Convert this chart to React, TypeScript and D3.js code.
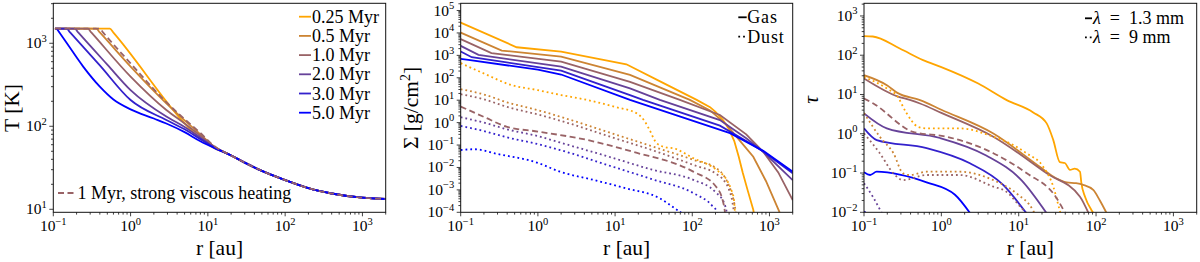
import React, { useEffect, useRef } from "react";
import * as d3 from "d3";

type Pt = [number, number];

// ---- labels ----
const ageLabels = ["0.25 Myr", "0.5 Myr", "1.0 Myr", "2.0 Myr", "3.0 Myr", "5.0 Myr"];
const viscousLabel = "1 Myr, strong viscous heating";
const phaseLabels = ["Gas", "Dust"];
const waveLabels = ["1.3 mm", "9 mm"];

const xTickExps = [-1, 0, 1, 2, 3];
const tempTickExps = [1, 2, 3];
const sigmaTickExps = [-4, -3, -2, -1, 0, 1, 2, 3, 4, 5];
const tauTickExps = [-2, -1, 0, 1, 2, 3];

// ---- temperature [K] vs r [au] ----
const tempTail: Pt[] = [[20, 44.5], [30, 36.5], [50, 29], [100, 22.5], [200, 18], [400, 15.5], [1000, 13.8], [2000, 13.3]];
const temp025: Pt[] = [[0.105, 1500], [0.54, 1500], [0.6, 1340], [11.5, 56], ...tempTail];
const temp05: Pt[] = [[0.105, 1500], [0.36, 1500], [0.4, 1350], [1, 523], [2.9, 189], [5, 118], [8, 80], [12, 57], ...tempTail];
const temp10: Pt[] = [[0.105, 1500], [0.28, 1500], [0.31, 1350], [1, 396], [2.9, 157], [5, 108], [8, 77], [12, 57], ...tempTail];
const temp20: Pt[] = [[0.105, 1500], [0.19, 1500], [0.21, 1350], [0.5, 553], [1, 273], [2.9, 131], [5, 98], [8, 73], [12, 56], ...tempTail];
const temp30: Pt[] = [[0.105, 1500], [0.149, 1500], [0.165, 1350], [0.4, 542], [1, 207], [2.9, 119], [5, 92], [8, 70], [12, 56], ...tempTail];
const temp50: Pt[] = [[0.111, 1500], [0.15, 1000], [0.245, 520], [0.4, 300], [0.6, 210], [1, 160], [2, 124], [2.9, 108], [5, 85], [8, 66], [12, 55], ...tempTail];
const tempViscous: Pt[] = [[0.105, 1500], [0.4, 1500], [0.44, 1350], [1, 573], [2.9, 195], [5, 122], [8, 83], [12, 58], ...tempTail];

// ---- surface density [g/cm^2] ----
const gas025: Pt[] = [[0.1, 2.9e4], [0.53, 2300], [2, 1480], [14, 400], [40, 64], [114, 10.3], [170, 4.9], [200, 3], [250, 1.3], [300, 0.5], [350, 0.15], [400, 0.03], [450, 6e-3], [520, 1e-3], [617, 1.3e-4], [700, 1e-5]];
const gas05: Pt[] = [[0.1, 1.04e4], [0.34, 1640], [2, 880], [15.6, 134], [93, 10.3], [170, 3.5], [279, 0.79], [400, 0.18], [617, 0.03], [900, 2.5e-3], [1340, 1.07e-4], [1500, 3e-5]];
const gas10: Pt[] = [[0.1, 5300], [0.25, 1250], [2, 525], [15.6, 66], [69, 10.3], [228, 2.2], [500, 0.3], [830, 0.05], [1300, 6e-3], [2000, 3.5e-4]];
const gas20: Pt[] = [[0.1, 2650], [0.17, 1050], [2, 316], [15.6, 34], [38, 10.3], [228, 1.3], [500, 0.2], [830, 0.05], [2000, 2.7e-3]];
const gas30: Pt[] = [[0.1, 1480], [0.139, 830], [2, 209], [15.6, 17], [23, 10.3], [228, 0.73], [500, 0.15], [830, 0.052], [2000, 5.5e-3]];
const gas50: Pt[] = [[0.1, 690], [0.126, 630], [1, 230], [2, 140], [15.6, 10.3], [308, 0.34], [830, 0.055], [2000, 6.5e-3]];

const dust025: Pt[] = [[0.1, 450], [0.2, 155], [0.45, 48], [1, 28], [2, 17], [4.5, 10], [10, 5], [19, 2.6], [24, 1.2], [28, 0.47], [34.6, 0.12], [45, 0.08], [57, 0.072], [103, 0.026], [207, 7.7e-3], [279, 2.8e-3], [320, 1e-3], [345, 4e-4], [357, 1e-4], [362, 5e-5]];
const dust05: Pt[] = [[0.1, 31], [0.2, 18], [0.4, 8], [1, 3.6], [1.93, 1.85], [10, 0.3], [30, 0.088], [103, 0.022], [207, 9e-3], [260, 4e-3], [300, 1.5e-3], [340, 4e-4], [365, 1e-4], [372, 5e-5]];
const dust10: Pt[] = [[0.1, 18.5], [0.2, 11], [0.4, 5], [1, 2.3], [1.93, 1.23], [10, 0.2], [30, 0.06], [103, 0.013], [207, 5e-3], [260, 2.5e-3], [300, 1e-3], [330, 3e-4], [345, 1e-4], [350, 5e-5]];
const dust20: Pt[] = [[0.1, 1.74], [0.2, 1.0], [0.4, 0.5], [1, 0.25], [1.93, 0.13], [10, 0.025], [30, 8e-3], [103, 2.8e-3], [200, 8e-4], [260, 2.5e-4], [280, 1e-4], [290, 5e-5]];
const dust30: Pt[] = [[0.1, 0.71], [0.2, 0.42], [0.4, 0.22], [1, 0.11], [1.93, 0.06], [10, 0.01], [30, 3e-3], [103, 7.2e-4], [180, 2e-4], [210, 1e-4], [220, 5e-5]];
const dust50: Pt[] = [[0.1, 0.06], [0.15, 0.065], [0.3, 0.04], [1, 0.016], [1.93, 6.5e-3], [5.2, 2.8e-3], [14, 1.17e-3], [38, 4.2e-4], [63, 1.3e-4], [73, 9e-5], [80, 5e-5]];
const dustViscous: Pt[] = [[0.1, 5.2], [0.2, 1.8], [0.39, 0.66], [1, 0.4], [4.3, 0.17], [17, 0.05], [103, 6.5e-3], [200, 1.5e-3], [250, 3e-4], [265, 1e-4], [270, 5e-5]];

// ---- optical depth ----
const tau13_025: Pt[] = [[0.1, 306], [0.13, 300], [0.29, 148], [0.58, 75], [1, 50], [3, 19], [7, 7.2], [15.4, 3.5], [23, 1.84], [28, 0.69], [34, 0.19], [39.5, 0.18], [46, 0.12], [53, 0.13], [62, 0.108], [64.6, 0.055], [72, 0.025], [87, 0.0115], [100, 0.008]];
const tau13_05: Pt[] = [[0.1, 31], [0.2, 17], [0.27, 11], [0.53, 7.2], [1, 4.1], [4.7, 1.02], [18.7, 0.145], [30, 0.075], [41.7, 0.058], [55, 0.055], [68, 0.05], [92, 0.037], [112, 0.02], [137, 0.0095]];
const tau13_10: Pt[] = [[0.1, 25.7], [0.27, 9], [0.4, 7.2], [0.53, 5.9], [1, 3.4], [4.7, 0.84], [23, 0.098], [62, 0.025], [80, 0.0095]];
const tau13_20: Pt[] = [[0.1, 3.3], [0.197, 1.37], [0.96, 0.78], [3.8, 0.28], [10.9, 0.065], [23, 0.0094]];
const tau13_30: Pt[] = [[0.1, 1.37], [0.146, 0.69], [0.645, 0.43], [2.34, 0.177], [6.3, 0.05], [12.6, 0.0094]];
const tau13_50: Pt[] = [[0.1, 0.105], [0.12, 0.089], [0.146, 0.108], [0.3, 0.09], [0.645, 0.058], [1.5, 0.028], [2.4, 0.009]];
const tau13_viscous: Pt[] = [[0.1, 7.9], [0.132, 5.9], [0.43, 1.12], [1.17, 0.84], [4.7, 0.32], [12.6, 0.1], [30, 0.025], [40, 0.0095]];

const tau9_025: Pt[] = [[0.1, 28], [0.2, 14], [0.27, 9], [0.35, 3.5], [0.5, 1.5], [0.645, 1.37], [1.74, 1.37], [4.7, 0.84], [7.7, 0.57], [12.6, 0.32], [20.7, 0.145], [28, 0.045], [34, 0.011], [35, 0.009]];
const tau9_05: Pt[] = [[0.1, 3.4], [0.16, 0.84], [0.24, 0.32], [0.32, 0.098], [0.39, 0.089], [0.645, 0.108], [1.74, 0.108], [4.7, 0.066], [9.4, 0.03], [15.4, 0.011], [16, 0.0095]];
const tau9_10: Pt[] = [[0.1, 1.02], [0.16, 0.32], [0.24, 0.098], [0.32, 0.066], [0.645, 0.089], [1.74, 0.089], [4.7, 0.045], [7, 0.033], [10.3, 0.0144], [12.6, 0.0094]];
const tau9_20: Pt[] = [[0.1, 0.055], [0.13, 0.025], [0.17, 0.0095]];
const tau9_30: Pt[] = [[0.1, 0.0105], [0.11, 0.0095]];

// ---- layout ----
const W = 1200;
const H = 262;
const TOP = 3.3;
const BOTTOM = 212.3;
const FONT = "Liberation Serif, Times New Roman, serif";
const ageColors = ageLabels.map((_, i) => d3.interpolateRgb("orange", "blue")(i / 5));

interface Series {
  data: Pt[];
  color: string;
  dash?: string;
  curve?: d3.CurveFactory;
}

const DOTTED = "1.8 3";
const DASHED = "6 3.5";

export default function App() {
  const ref = useRef<HTMLDivElement>(null);

  useEffect(() => {
    const root = d3.select(ref.current);
    root.selectAll("*").remove();
    const svg = root
      .append("svg")
      .attr("width", W)
      .attr("height", H)
      .attr("font-family", FONT)
      .style("display", "block")
      .style("background", "white");

    const powLabel = (
      sel: d3.Selection<SVGTextElement, unknown, null, undefined>,
      e: number,
    ) => {
      sel.append("tspan").text("10");
      sel
        .append("tspan")
        .attr("dy", -6.5)
        .attr("font-size", 10.5)
        .text(e < 0 ? `\u2212${-e}` : `${e}`);
    };

    const drawPanel = (
      idx: number,
      left: number,
      right: number,
      yDomain: [number, number],
      yExps: number[],
      series: Series[],
    ) => {
      const x = d3.scaleLog().domain([0.1, 2000]).range([left, right]);
      const y = d3.scaleLog().domain(yDomain).range([BOTTOM, TOP]);
      const g = svg.append("g").attr("font-family", FONT);
      const clipId = `clip-${idx}`;
      g.append("clipPath")
        .attr("id", clipId)
        .append("rect")
        .attr("x", left)
        .attr("y", TOP)
        .attr("width", right - left)
        .attr("height", BOTTOM - TOP);

      const lines = g.append("g").attr("clip-path", `url(#${clipId})`);
      series.forEach((s) => {
        const line = d3
          .line<Pt>()
          .x((d) => x(d[0]))
          .y((d) => y(d[1]))
          .curve(s.curve ?? d3.curveMonotoneX);
        lines
          .append("path")
          .attr("d", line(s.data))
          .attr("fill", "none")
          .attr("stroke", s.color)
          .attr("stroke-width", 1.8)
          .attr("stroke-dasharray", s.dash ?? null);
      });

      // frame
      g.append("rect")
        .attr("x", left)
        .attr("y", TOP)
        .attr("width", right - left)
        .attr("height", BOTTOM - TOP)
        .attr("fill", "none")
        .attr("stroke", "#111")
        .attr("stroke-width", 1);

      const [x0, x1] = x.domain();
      const [y0, y1] = y.domain();
      const minor = (lo: number, hi: number) => {
        const out: number[] = [];
        for (let p = Math.floor(Math.log10(lo)); p <= Math.ceil(Math.log10(hi)); p++) {
          for (let k = 2; k <= 9; k++) {
            const v = k * Math.pow(10, p);
            if (v >= lo && v <= hi) out.push(v);
          }
        }
        return out;
      };
      const ticks = g.append("g").attr("stroke", "#111").attr("stroke-width", 0.8);
      xTickExps.forEach((e) => {
        const px = x(Math.pow(10, e));
        ticks.append("line").attr("x1", px).attr("x2", px).attr("y1", BOTTOM).attr("y2", BOTTOM + 4);
        const t = g
          .append("text")
          .attr("x", px)
          .attr("y", 231)
          .attr("text-anchor", "middle")
          .attr("font-size", 15.5);
        powLabel(t, e);
      });
      minor(x0, x1).forEach((v) => {
        const px = x(v);
        ticks.append("line").attr("x1", px).attr("x2", px).attr("y1", BOTTOM).attr("y2", BOTTOM + 2.3);
      });
      yExps.forEach((e) => {
        const py = y(Math.pow(10, e));
        ticks.append("line").attr("x1", left - 4).attr("x2", left).attr("y1", py).attr("y2", py);
        const t = g
          .append("text")
          .attr("x", left - 6.5)
          .attr("y", py + 5)
          .attr("text-anchor", "end")
          .attr("font-size", 15.5);
        powLabel(t, e);
      });
      minor(y0, y1).forEach((v) => {
        const py = y(v);
        ticks.append("line").attr("x1", left - 2.3).attr("x2", left).attr("y1", py).attr("y2", py);
      });

      g.append("text")
        .attr("x", (left + right) / 2)
        .attr("y", 255)
        .attr("text-anchor", "middle")
        .attr("font-size", 21.5)
        .text("r [au]");

      return g;
    };

    // ---------- panel 1: temperature ----------
    const tempData = [temp025, temp05, temp10, temp20, temp30, temp50];
    const g1 = drawPanel(
      1,
      53.3,
      385.7,
      [9.2, 3030],
      tempTickExps,
      [
        ...tempData.map((d, i) => ({ data: d, color: ageColors[i] })),
        { data: tempViscous, color: ageColors[2], dash: DASHED },
      ],
    );
    g1.append("text")
      .attr("transform", "translate(19,108) rotate(-90)")
      .attr("text-anchor", "middle")
      .attr("font-size", 21.5)
      .text("T [K]");
    ageLabels.forEach((lab, i) => {
      const cy = 16.7 + i * 19.2;
      g1.append("line")
        .attr("x1", 299)
        .attr("x2", 311)
        .attr("y1", cy)
        .attr("y2", cy)
        .attr("stroke", ageColors[i])
        .attr("stroke-width", 1.8);
      g1.append("text")
        .attr("x", 312)
        .attr("y", cy + 6)
        .attr("font-size", 18)
        .text(lab);
    });
    g1.append("line")
      .attr("x1", 58)
      .attr("x2", 77)
      .attr("y1", 193)
      .attr("y2", 193)
      .attr("stroke", ageColors[2])
      .attr("stroke-width", 1.8)
      .attr("stroke-dasharray", DASHED);
    g1.append("text").attr("x", 77.5).attr("y", 199).attr("font-size", 18).text(viscousLabel);

    // ---------- panel 2: surface density ----------
    const gasData = [gas025, gas05, gas10, gas20, gas30, gas50];
    const dustData = [dust025, dust05, dust10, dust20, dust30, dust50];
    const g2 = drawPanel(
      2,
      460.7,
      792.7,
      [1e-4, 2.1e5],
      sigmaTickExps,
      [
        ...gasData.map((d, i) => ({ data: d, color: ageColors[i], curve: d3.curveLinear })),
        ...dustData.map((d, i) => ({ data: d, color: ageColors[i], dash: DOTTED })),
        { data: dustViscous, color: ageColors[2], dash: DASHED },
      ],
    );
    const sl = g2
      .append("text")
      .attr("transform", "translate(418,108) rotate(-90)")
      .attr("text-anchor", "middle")
      .attr("font-size", 21.5);
    sl.append("tspan").text("\u03A3 [g/cm");
    sl.append("tspan").attr("dy", -8).attr("font-size", 14).text("2");
    sl.append("tspan").attr("dy", 8).text("]");
    phaseLabels.forEach((lab, i) => {
      const cy = 17.3 + i * 19.4;
      g2.append("line")
        .attr("x1", 738.3)
        .attr("x2", 746.7)
        .attr("y1", cy)
        .attr("y2", cy)
        .attr("stroke", "#000")
        .attr("stroke-width", 1.8)
        .attr("stroke-dasharray", i === 1 ? DOTTED : null);
      g2.append("text")
        .attr("x", 747.3)
        .attr("y", cy + 6)
        .attr("font-size", 18)
        .attr("letter-spacing", 0.8)
        .text(lab);
    });

    // ---------- panel 3: optical depth ----------
    const tau13Data = [tau13_025, tau13_05, tau13_10, tau13_20, tau13_30, tau13_50];
    const tau9Data = [tau9_025, tau9_05, tau9_10, tau9_20, tau9_30];
    const g3 = drawPanel(
      3,
      864,
      1196.7,
      [0.01, 2100],
      tauTickExps,
      [
        ...tau13Data.map((d, i) => ({ data: d, color: ageColors[i] })),
        ...tau9Data.map((d, i) => ({ data: d, color: ageColors[i], dash: DOTTED })),
        { data: tau13_viscous, color: ageColors[2], dash: DASHED },
      ],
    );
    g3.append("text")
      .attr("transform", "translate(818,100) rotate(-90)")
      .attr("text-anchor", "middle")
      .attr("font-size", 21.5)
      .attr("font-style", "italic")
      .text("\u03C4");
    waveLabels.forEach((lab, i) => {
      const cy = 18.3 + i * 19;
      g3.append("line")
        .attr("x1", 1085)
        .attr("x2", 1092)
        .attr("y1", cy)
        .attr("y2", cy)
        .attr("stroke", "#000")
        .attr("stroke-width", 1.8)
        .attr("stroke-dasharray", i === 1 ? DOTTED : null);
      const t = g3
        .append("text")
        .attr("x", 1093)
        .attr("y", cy + 6)
        .attr("font-size", 18);
      t.append("tspan").attr("font-style", "italic").text("\u03BB");
      t.append("tspan").text(`\u2002=\u2002${lab}`);
    });
  }, []);

  return <div ref={ref} style={{ position: "absolute", left: 0, top: 0 }} />;
}
